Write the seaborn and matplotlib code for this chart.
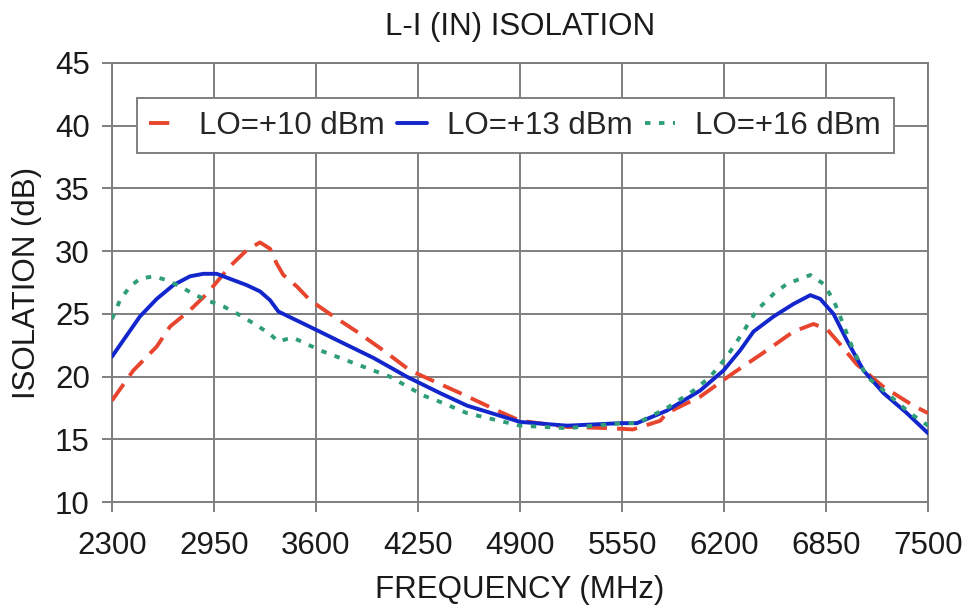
import matplotlib
matplotlib.use('Agg')
import matplotlib.pyplot as plt
import seaborn as sns
import pandas as pd

# ---------------------------------------------------------------------------------------
## Data

lo10_freq = [2300, 2436, 2585, 2670, 2797, 2904, 3052, 3160, 3243, 3307, 3350, 3392, 3477,
             3562, 3689, 3859, 4029, 4199, 4518, 4773, 4900, 5200, 5475, 5620, 5795, 5834,
             6047, 6260, 6473, 6643, 6770, 6855, 6939, 7045, 7215, 7406, 7500]
lo10_iso = [18.1, 20.5, 22.4, 24.0, 25.3, 26.6, 28.8, 30.1, 30.7, 30.2, 29.0, 28.1, 27.2,
            26.1, 25.0, 23.6, 22.1, 20.5, 18.7, 17.2, 16.5, 16.0, 15.9, 15.8, 16.5, 17.1,
            18.4, 20.3, 22.1, 23.6, 24.2, 23.8, 22.6, 21.0, 19.2, 17.7, 17.1]

lo13_freq = [2300, 2372, 2478, 2585, 2691, 2797, 2882, 2967, 3052, 3158, 3243, 3307, 3360,
             3392, 3541, 3753, 3966, 4179, 4390, 4562, 4900, 5200, 5540, 5645, 5836, 6048,
             6197, 6303, 6388, 6516, 6643, 6750, 6813, 6898, 6983, 7089, 7216, 7365, 7500]
lo13_iso = [21.6, 22.9, 24.8, 26.2, 27.3, 28.0, 28.2, 28.2, 27.8, 27.3, 26.8, 26.1, 25.2,
            25.0, 24.1, 22.8, 21.5, 20.0, 18.7, 17.7, 16.4, 16.1, 16.3, 16.3, 17.3, 18.9,
            20.5, 22.1, 23.6, 24.8, 25.8, 26.5, 26.2, 25.0, 22.9, 20.5, 18.7, 17.1, 15.5]

lo16_freq = [2300, 2351, 2415, 2478, 2563, 2648, 2733, 2818, 2903, 3010, 3116, 3222, 3307,
             3360, 3413, 3456, 3541, 3647, 3859, 4072, 4284, 4390, 4562, 4900, 5200, 5550,
             5645, 5836, 6006, 6112, 6218, 6303, 6409, 6516, 6601, 6750, 6834, 6898, 6940,
             7025, 7110, 7237, 7385, 7500]
lo16_iso = [24.6, 26.1, 27.2, 27.8, 28.0, 27.7, 27.2, 26.6, 26.1, 25.6, 24.9, 24.1, 23.4,
            22.8, 23.0, 23.1, 22.6, 22.0, 21.0, 20.0, 18.5, 18.0, 17.1, 16.1, 15.9, 16.3,
            16.3, 17.5, 18.9, 20.0, 21.6, 23.2, 25.3, 26.6, 27.4, 28.1, 27.4, 26.1, 24.8,
            22.1, 20.0, 18.7, 17.1, 16.1]

series_labels = ['LO=+10 dBm', 'LO=+13 dBm', 'LO=+16 dBm']
series_colors = ['#e8452e', '#1226cc', '#2f9e78']

x_ticks = [2300, 2950, 3600, 4250, 4900, 5550, 6200, 6850, 7500]
y_ticks = [10, 15, 20, 25, 30, 35, 40, 45]

# ---------------------------------------------------------------------------------------
## Plot

sns.set_style('white')
plt.rcParams['font.family'] = ['Liberation Sans', 'DejaVu Sans']

FS = 22.5

fig = plt.figure(figsize=(9.68, 6.11), dpi=100)
ax = fig.add_axes([0.1157, 0.178, 0.8430, 0.719])

df = pd.concat([
    pd.DataFrame({'freq': lo10_freq, 'iso': lo10_iso, 'LO': series_labels[0]}),
    pd.DataFrame({'freq': lo13_freq, 'iso': lo13_iso, 'LO': series_labels[1]}),
    pd.DataFrame({'freq': lo16_freq, 'iso': lo16_iso, 'LO': series_labels[2]}),
])

for lab, col in zip(series_labels, series_colors):
    sub = df[df['LO'] == lab]
    sns.lineplot(data=sub, x='freq', y='iso', color=col, linewidth=2.8,
                 label=lab, ax=ax, zorder=3)

lines = ax.get_lines()
lines[0].set_dashes([5.2, 2.6])
lines[2].set_dashes([1.4, 2.2])
lines[2].set_dash_capstyle('butt')

ax.set_xlim(2300, 7500)
ax.set_ylim(10, 45)
ax.set_xticks(x_ticks)
ax.set_yticks(y_ticks)
ax.grid(True, color='#7f7f7f', linewidth=1.4, zorder=0)
for sp in ax.spines.values():
    sp.set_color('#7f7f7f')
    sp.set_linewidth(1.4)

ax.tick_params(axis='both', labelsize=FS, direction='out', length=7, width=1.4,
               color='#7f7f7f', labelcolor='#1a1a1a')
ax.tick_params(axis='x', pad=14)
ax.tick_params(axis='y', pad=9)
ax.tick_params(bottom=True, left=True)

ax.set_xlabel('FREQUENCY (MHz)', fontsize=FS, color='#1a1a1a', labelpad=10)
ax.set_ylabel('ISOLATION (dB)', fontsize=FS, color='#1a1a1a', labelpad=9)
ax.set_title('L-I (IN) ISOLATION', fontsize=FS, color='#1a1a1a', pad=20)

leg = ax.legend(loc='upper center', bbox_to_anchor=(0.494, 0.92), ncol=3, fontsize=FS,
                frameon=True, fancybox=False, handlelength=0.95, handletextpad=0.65,
                columnspacing=0.4, borderpad=0.4, borderaxespad=0)
leg.get_frame().set_edgecolor('#7f7f7f')
leg.get_frame().set_linewidth(1.4)
leg.get_frame().set_alpha(1)

fig.savefig('out.png', dpi=100, facecolor='white')
